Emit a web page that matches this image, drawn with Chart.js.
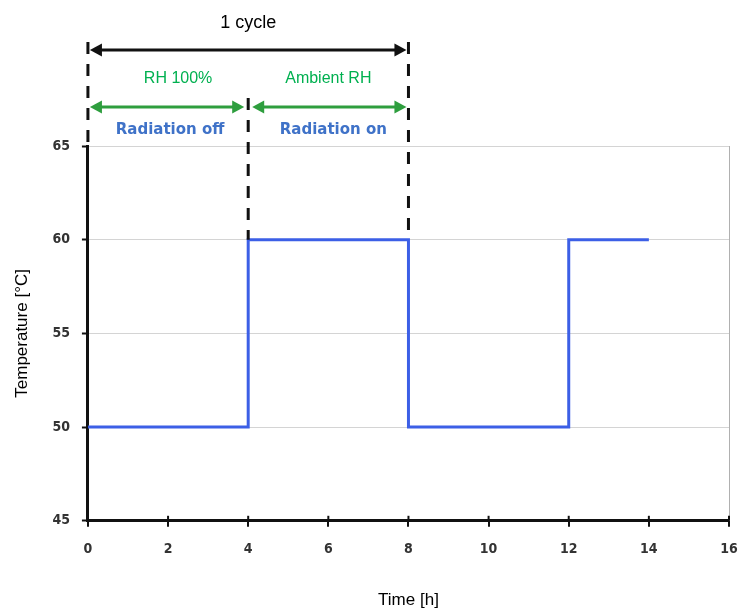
<!DOCTYPE html>
<html lang="en">

<head>
  <meta charset="UTF-8">
  <title>Temperature cycle</title>
  <script src="https://cdn.jsdelivr.net/npm/chart.js@4.4.0/dist/chart.umd.min.js"></script>
  <style>
    html, body { margin: 0; padding: 0; background: #fff; }
    #wrap { width: 744px; height: 615px; }
  </style>
</head>

<body>
  <div id="wrap"><canvas id="cycleChart"></canvas></div>
  <script>
    // step profile: time [h] and temperature [°C]
    const timeH = [0, 4, 8, 12, 14];
    const tempC = [50, 60, 50, 60, 60];
    // one cycle on the time axis
    const cycleStart = 0, cycleSwitch = 4, cycleEnd = 8;
    const xTicks = { min: 0, max: 16, step: 2 };
    const yTicks = { min: 45, max: 65, step: 5 };

    const points = timeH.map((t, i) => ({ x: t, y: tempC[i] }));

    function arrowHead(ctx, x, y, dir, size) {
      ctx.beginPath();
      ctx.moveTo(x, y);
      ctx.lineTo(x - dir * size, y - size * 0.55);
      ctx.lineTo(x - dir * size, y + size * 0.55);
      ctx.closePath();
      ctx.fill();
    }

    function hArrow(ctx, x1, x2, y, color) {
      ctx.save();
      ctx.strokeStyle = color;
      ctx.fillStyle = color;
      ctx.lineWidth = 3;
      ctx.beginPath();
      ctx.moveTo(x1 + 6, y);
      ctx.lineTo(x2 - 6, y);
      ctx.stroke();
      arrowHead(ctx, x1 + 2, y, -1, 12);
      arrowHead(ctx, x2 - 2, y, 1, 12);
      ctx.restore();
    }

    function dashLine(ctx, x, y1, y2) {
      ctx.save();
      ctx.strokeStyle = '#111';
      ctx.lineWidth = 3;
      ctx.setLineDash([12, 10]);
      ctx.beginPath();
      ctx.moveTo(x, y1);
      ctx.lineTo(x, y2);
      ctx.stroke();
      ctx.restore();
    }

    const cycleNotes = {
      id: 'cycleNotes',
      afterDraw(chart) {
        const ctx = chart.ctx, xs = chart.scales.x, ys = chart.scales.y, area = chart.chartArea;
        const x0 = xs.getPixelForValue(cycleStart);
        const x1 = xs.getPixelForValue(cycleSwitch);
        const x2 = xs.getPixelForValue(cycleEnd);
        const yHigh = ys.getPixelForValue(60);

        // right frame line
        ctx.save();
        ctx.strokeStyle = '#b0b0b0';
        ctx.lineWidth = 1;
        ctx.beginPath();
        ctx.moveTo(area.right + 0.5, area.top);
        ctx.lineTo(area.right + 0.5, area.bottom);
        ctx.stroke();
        // x tick marks reaching into the plot
        ctx.strokeStyle = '#111';
        ctx.lineWidth = 2;
        for (let v = xTicks.min; v <= xTicks.max; v += xTicks.step) {
          const px = xs.getPixelForValue(v);
          ctx.beginPath();
          ctx.moveTo(px, area.bottom);
          ctx.lineTo(px, area.bottom - 5);
          ctx.stroke();
        }
        ctx.restore();

        dashLine(ctx, x0, 42, area.top);
        dashLine(ctx, x1, 98, yHigh);
        dashLine(ctx, x2, 42, yHigh);

        hArrow(ctx, x0, x2, 50, '#111');
        hArrow(ctx, x0, x1 - 2, 107, '#2e9e3e');
        hArrow(ctx, x1 + 2, x2, 107, '#2e9e3e');

        ctx.save();
        ctx.textAlign = 'center';
        ctx.textBaseline = 'middle';
        ctx.fillStyle = '#000';
        ctx.font = '18px "Liberation Sans", Arial, sans-serif';
        ctx.fillText('1 cycle', x1, 23);
        ctx.fillStyle = '#00b050';
        ctx.font = '16px "Liberation Sans", Arial, sans-serif';
        ctx.fillText('RH 100%', (x0 + x1) / 2 + 10, 79);
        ctx.fillText('Ambient RH', (x1 + x2) / 2, 79);
        ctx.fillStyle = '#3f72c8';
        ctx.font = 'bold 15px "DejaVu Sans", Verdana, sans-serif';
        ctx.fillText('Radiation off', (x0 + x1) / 2 + 2, 130);
        ctx.fillText('Radiation on', (x1 + x2) / 2 + 5, 130);
        ctx.restore();
      }
    };

    new Chart(document.getElementById('cycleChart'), {
      type: 'line',
      data: {
        datasets: [{
          data: points,
          stepped: true,
          borderColor: '#3c5fe6',
          borderWidth: 3,
          pointRadius: 0,
          fill: false
        }]
      },
      options: {
        responsive: true,
        maintainAspectRatio: false,
        animation: false,
        layout: { padding: { top: 146, right: 0, left: 8, bottom: 0 } },
        plugins: { legend: { display: false }, tooltip: { enabled: false } },
        scales: {
          x: {
            type: 'linear',
            min: xTicks.min,
            max: xTicks.max,
            afterFit(scale) { scale.paddingRight = 15; },
            ticks: {
              stepSize: xTicks.step,
              color: '#333',
              font: { family: '"DejaVu Sans Condensed", "DejaVu Sans", sans-serif', size: 14, weight: 'bold' },
              padding: 14
            },
            grid: { drawOnChartArea: false, tickLength: 6, color: '#111', lineWidth: 2 },
            border: { color: '#111', width: 3 },
            title: {
              display: true,
              text: 'Time [h]',
              color: '#000',
              font: { family: '"Liberation Sans", Arial, sans-serif', size: 17 },
              padding: { top: 19 }
            }
          },
          y: {
            min: yTicks.min,
            max: yTicks.max,
            ticks: {
              stepSize: yTicks.step,
              color: '#333',
              font: { family: '"DejaVu Sans Condensed", "DejaVu Sans", sans-serif', size: 14, weight: 'bold' },
              padding: 12
            },
            grid: { color: '#d4d4d4', tickLength: 6, tickColor: '#111', tickWidth: 2 },
            border: { color: '#111', width: 3 },
            title: {
              display: true,
              text: 'Temperature [°C]',
              color: '#000',
              font: { family: '"Liberation Sans", Arial, sans-serif', size: 17 },
              padding: { bottom: 8 }
            }
          }
        }
      },
      plugins: [cycleNotes]
    });
  </script>
</body>

</html>
